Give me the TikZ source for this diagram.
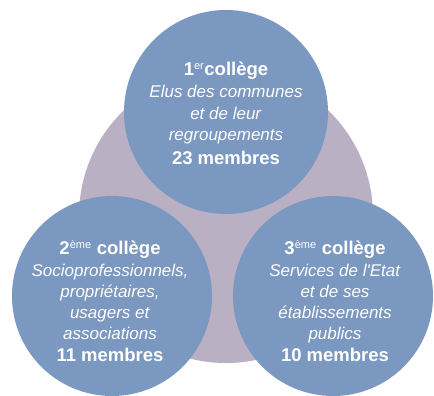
\documentclass[tikz,border=0pt]{standalone}
\usepackage{fontspec}
\setmainfont{Liberation Sans}
\definecolor{cblue}{RGB}{123,152,192}
\definecolor{cmauve}{RGB}{186,176,195}
\begin{document}
\begin{tikzpicture}[x=1pt,y=-1pt,
  college/.style={circle, fill=cblue, inner sep=0pt},
  ctext/.style={text=white, align=center, inner sep=0pt,
    font=\fontsize{17}{21.2}\selectfont}]
\useasboundingbox (0,0) rectangle (434,396);
\fill[white] (0,0) rectangle (434,396);
\node[circle, fill=cmauve, minimum size=294pt, inner sep=0pt] (bg) at (226,216) {};
\node[college, minimum size=204pt] (c1) at (226,112) {};
\node[college, minimum size=200pt] (c2) at (112,296) {};
\node[college, minimum size=200pt] (c3) at (333,296) {};
\newcommand{\ttlfont}{\fontsize{18.5}{21.2}\selectfont\bfseries}
\newcommand{\supfont}{\fontsize{11}{11}\selectfont\mdseries}
\node[ctext] (t1) at (226,113) {{\ttlfont 1\textsuperscript{\supfont er}collège}\\[1.5pt]
  \textit{Elus des communes}\\ \textit{et de leur}\\ \textit{regroupements}\\[2.5pt]
  {\ttlfont 23 membres}};
\node[ctext] (t2) at (110,301) {{\ttlfont 2\textsuperscript{\supfont ème} collège}\\[0.5pt]
  \textit{Socioprofessionnels,}\\ \textit{propriétaires,}\\ \textit{usagers et}\\ \textit{associations}\\[1pt]
  {\ttlfont 11 membres}};
\node[ctext] (t3) at (335,301) {{\ttlfont 3\textsuperscript{\supfont ème} collège}\\[0.5pt]
  \textit{Services de l\textquotesingle Etat}\\ \textit{et de ses}\\ \textit{établissements}\\ \textit{publics}\\[1pt]
  {\ttlfont 10 membres}};
\end{tikzpicture}
\end{document}
